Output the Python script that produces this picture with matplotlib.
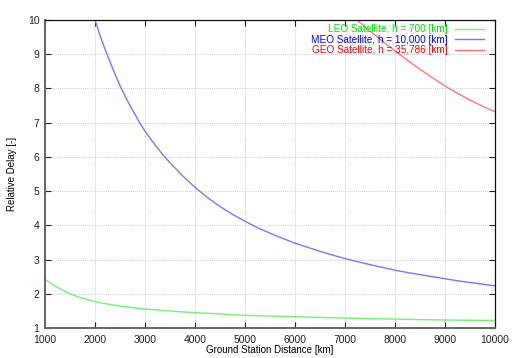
import matplotlib
matplotlib.use("Agg")
import matplotlib.pyplot as plt

# Data
leo_d = [1000, 1100, 1200, 1300, 1400, 1500, 1625, 1750, 1875, 2000, 2250,
         2500, 2750, 3000, 3250, 3500, 3750, 4000, 4500, 5000, 5500, 6000,
         6500, 7000, 7500, 8000, 8500, 9000, 9500, 10000]
leo_v = [2.42, 2.32, 2.23, 2.15, 2.07, 2.00, 1.93, 1.87, 1.82, 1.77, 1.70,
         1.64, 1.595, 1.555, 1.525, 1.50, 1.47, 1.45, 1.41, 1.37, 1.35, 1.33,
         1.31, 1.29, 1.275, 1.26, 1.245, 1.235, 1.225, 1.22]

meo_d = [1950, 2000, 2100, 2200, 2300, 2400, 2500, 2600, 2700, 2800, 2900,
         3000, 3125, 3250, 3375, 3500, 3625, 3750, 3875, 4000, 4250, 4500,
         4750, 5000, 5250, 5500, 5750, 6000, 6250, 6500, 6750, 7000, 7250,
         7500, 7750, 8000, 8250, 8500, 8750, 9000, 9250, 9500, 9750, 10000]
meo_v = [10.25, 10.0, 9.55, 9.15, 8.78, 8.42, 8.08, 7.78, 7.50, 7.24, 6.98,
         6.75, 6.50, 6.26, 6.03, 5.83, 5.64, 5.45, 5.28, 5.11, 4.81, 4.55,
         4.32, 4.12, 3.93, 3.77, 3.62, 3.48, 3.36, 3.24, 3.13, 3.03, 2.94,
         2.85, 2.77, 2.69, 2.62, 2.56, 2.50, 2.44, 2.38, 2.33, 2.28, 2.23]

geo_d = [7100, 7200, 7350, 7500, 7750, 8000, 8250, 8500, 8750, 9000, 9250,
         9500, 9750, 10000]
geo_v = [10.18, 10.05, 9.86, 9.68, 9.38, 9.10, 8.82, 8.56, 8.31, 8.07, 7.86,
         7.66, 7.48, 7.32]

labels = ["LEO Satellite, h = 700 [km]",
          "MEO Satellite, h = 10,000 [km]",
          "GEO Satellite, h = 35,786 [km]"]
line_colors = ["#77ee77", "#7777ff", "#ff7777"]
text_colors = ["#00e000", "#0000ff", "#ff0000"]

xticks = [1000, 2000, 3000, 4000, 5000, 6000, 7000, 8000, 9000, 10000]
yticks = [1, 2, 3, 4, 5, 6, 7, 8, 9, 10]

plt.rcParams['font.family'] = ['Liberation Sans', 'DejaVu Sans']

fig = plt.figure(figsize=(5.12, 3.58), dpi=100)
ax = fig.add_axes([45/512, 1-328/358, 450/512, 308/358])

for d, v, lab, c in zip([leo_d, meo_d, geo_d], [leo_v, meo_v, geo_v], labels, line_colors):
    ax.plot(d, v, color=c, lw=1.0, label=lab)

ax.set_xlim(1000, 10000)
ax.set_ylim(1, 10)
ax.set_xticks(xticks)
ax.set_yticks(yticks)
ax.tick_params(direction='in', length=4, width=0.8, top=True, right=True,
               labelsize=7.5, colors='#222222')
ax.tick_params(axis='x', pad=5)
ax.tick_params(axis='y', pad=4)
ax.grid(True, color='#bbbbbb', linestyle=(0, (1, 1.5)), lw=0.6)

for s in ['left', 'bottom']:
    ax.spines[s].set_color('#666666')
    ax.spines[s].set_linewidth(1.4)
for s in ['top', 'right']:
    ax.spines[s].set_color('#111111')
    ax.spines[s].set_linewidth(0.9)

ax.set_xlabel("Ground Station Distance [km]", fontsize=7, labelpad=0)
ax.set_ylabel("Relative Delay [-]", fontsize=7, labelpad=8)

leg = ax.legend(loc='upper right', frameon=False, markerfirst=False,
                fontsize=7.2, handlelength=2.9, handletextpad=0.7,
                labelspacing=0.05, borderaxespad=0, borderpad=0,
                bbox_to_anchor=(0.9756, 0.987))
for t, c in zip(leg.get_texts(), text_colors):
    t.set_color(c)
for t in leg.get_texts():
    t.set_ha('right')

fig.savefig("out.png", dpi=100)
